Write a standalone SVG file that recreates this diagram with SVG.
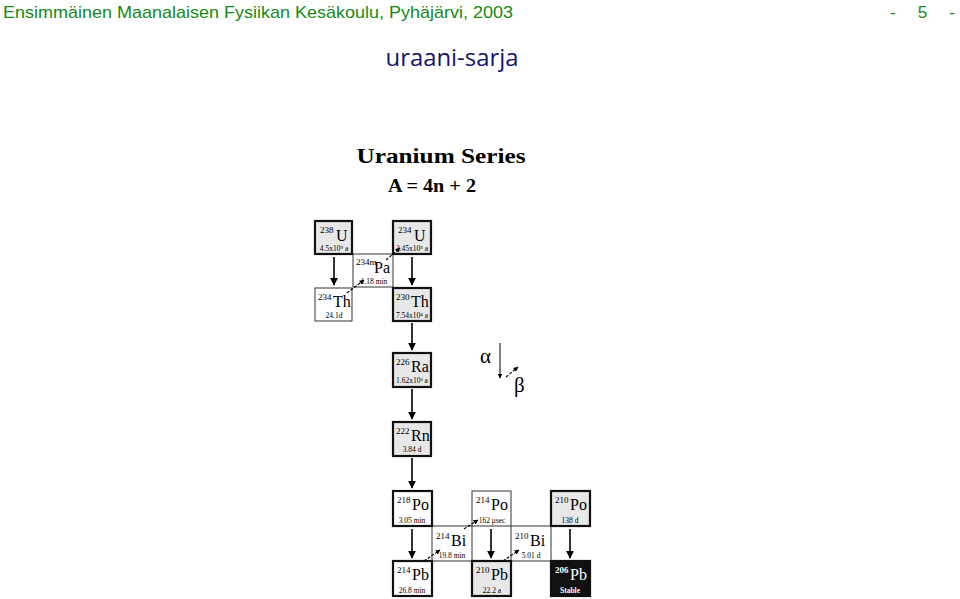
<svg xmlns="http://www.w3.org/2000/svg" width="960" height="599" viewBox="0 0 960 599">
<defs>
<style>
.hdr{font-family:"Liberation Sans Narrow","Liberation Sans",sans-serif;font-size:17px;fill:#148a14}
.ttl{font-family:"Open Sans","Liberation Sans",sans-serif;font-size:24px;fill:#14146e}
.ser{font-family:"Liberation Serif",serif;fill:#000}
.box{stroke:#111;stroke-width:2.2}
.thin{fill:#fff;stroke:#333;stroke-width:1}
.gray{fill:#e8e8e8}
.wht{fill:#fff}
.mass{font-family:"Liberation Serif",serif;font-size:9px}
.sym{font-family:"Liberation Serif",serif;font-size:16px}
.hl{font-family:"Liberation Serif",serif;font-size:7.5px;text-anchor:middle}
.alpha{stroke:#000;stroke-width:1.6;fill:none}
.beta{stroke:#000;stroke-width:1.1;stroke-dasharray:3 1.5;fill:none}
</style>
<marker id="ah" viewBox="0 0 10 10" refX="9" refY="5" markerWidth="8" markerHeight="8" markerUnits="userSpaceOnUse" orient="auto">
<path d="M0,0 L10,5 L0,10 z" fill="#000"/>
</marker>
<marker id="bh" viewBox="0 0 10 10" refX="9" refY="5" markerWidth="5" markerHeight="5" markerUnits="userSpaceOnUse" orient="auto">
<path d="M0,0 L10,5 L0,10 z" fill="#000"/>
</marker>
</defs>
<rect width="960" height="599" fill="#fff"/>
<text class="hdr" x="3" y="18" textLength="510" lengthAdjust="spacingAndGlyphs">Ensimmäinen Maanalaisen Fysiikan Kesäkoulu, Pyhäjärvi, 2003</text>
<text class="hdr" x="890" y="18" textLength="65" lengthAdjust="spacing">- 5 -</text>
<text class="ttl" x="452" y="66" text-anchor="middle" textLength="133" lengthAdjust="spacingAndGlyphs">uraani-sarja</text>
<text class="ser" x="441" y="163" text-anchor="middle" font-size="22" font-weight="bold" textLength="169" lengthAdjust="spacingAndGlyphs">Uranium Series</text>
<text class="ser" x="432" y="192" text-anchor="middle" font-size="19" font-weight="bold" textLength="88" lengthAdjust="spacingAndGlyphs">A = 4n + 2</text>

<g id="pa234"><rect class="thin" x="353" y="254" width="40" height="33"/><text class="mass" x="356" y="265" font-size="6">234m</text><text class="sym" x="374" y="273">Pa</text><text class="hl" x="374" y="284">1.18 min</text></g>
<g id="th234"><rect class="thin" x="315" y="288" width="37" height="33"/><text class="mass" x="318" y="300">234</text><text class="sym" x="333" y="307">Th</text><text class="hl" x="334" y="318">24.1d</text></g>
<g id="bi214"><rect class="thin" x="432" y="526" width="40" height="35"/><text class="mass" x="436" y="539">214</text><text class="sym" x="451" y="546">Bi</text><text class="hl" x="452" y="558">19.8 min</text></g>
<g id="po214"><rect class="thin" x="472" y="491" width="39" height="35"/><text class="mass" x="476" y="503">214</text><text class="sym" x="491" y="510">Po</text><text class="hl" x="492" y="523">162 μsec</text></g>
<g id="bi210"><rect class="thin" x="511" y="526" width="40" height="35"/><text class="mass" x="515" y="539">210</text><text class="sym" x="530" y="546">Bi</text><text class="hl" x="531" y="558">5.01 d</text></g>

<g id="u238"><rect class="box gray" x="315" y="221" width="37" height="33"/><text class="mass" x="320" y="233">238</text><text class="sym" x="336" y="241">U</text><text class="hl" x="334" y="251">4.5x10⁹ a</text></g>
<g id="u234"><rect class="box gray" x="393" y="221" width="38" height="33"/><text class="mass" x="398" y="233">234</text><text class="sym" x="414" y="241">U</text><text class="hl" x="412" y="251">2.45x10⁵ a</text></g>
<g id="th230"><rect class="box gray" x="393" y="288" width="38" height="33"/><text class="mass" x="396" y="300">230</text><text class="sym" x="411" y="307">Th</text><text class="hl" x="412" y="318">7.54x10⁴ a</text></g>
<g id="ra226"><rect class="box gray" x="393" y="353" width="38" height="34"/><text class="mass" x="396" y="365">226</text><text class="sym" x="411" y="372">Ra</text><text class="hl" x="412" y="383">1.62x10³ a</text></g>
<g id="rn222"><rect class="box gray" x="393" y="422" width="38" height="34"/><text class="mass" x="396" y="434">222</text><text class="sym" x="411" y="441">Rn</text><text class="hl" x="412" y="452">3.84 d</text></g>
<g id="po218"><rect class="box wht" x="393" y="491" width="39" height="35"/><text class="mass" x="397" y="503">218</text><text class="sym" x="412" y="510">Po</text><text class="hl" x="412" y="523">3.05 min</text></g>
<g id="po210"><rect class="box gray" x="551" y="491" width="39" height="35"/><text class="mass" x="555" y="503">210</text><text class="sym" x="570" y="510">Po</text><text class="hl" x="570" y="523">138 d</text></g>
<g id="pb214"><rect class="box wht" x="393" y="561" width="39" height="35"/><text class="mass" x="397" y="573">214</text><text class="sym" x="412" y="580">Pb</text><text class="hl" x="412" y="593">26.8 min</text></g>
<g id="pb210"><rect class="box gray" x="472" y="561" width="39" height="35"/><text class="mass" x="476" y="573">210</text><text class="sym" x="491" y="580">Pb</text><text class="hl" x="492" y="593">22.2 a</text></g>
<g id="pb206"><rect class="box" fill="#111" x="551" y="561" width="39" height="35"/><text class="mass" x="555" y="573" fill="#fff" font-weight="bold">206</text><text class="sym" x="570" y="580" fill="#fff">Pb</text><text class="hl" x="570" y="593" fill="#fff" font-weight="bold">Stable</text></g>

<g id="connectors">
<line class="alpha" x1="334" y1="257" x2="334" y2="285" marker-end="url(#ah)"/>
<line class="alpha" x1="412" y1="257" x2="412" y2="285" marker-end="url(#ah)"/>
<line class="alpha" x1="412" y1="323" x2="412" y2="350" marker-end="url(#ah)"/>
<line class="alpha" x1="412" y1="389" x2="412" y2="419" marker-end="url(#ah)"/>
<line class="alpha" x1="412" y1="458" x2="412" y2="488" marker-end="url(#ah)"/>
<line class="alpha" x1="412" y1="529" x2="412" y2="558" marker-end="url(#ah)"/>
<line class="alpha" x1="491" y1="529" x2="491" y2="558" marker-end="url(#ah)"/>
<line class="alpha" x1="570" y1="529" x2="570" y2="558" marker-end="url(#ah)"/>
<line class="beta" x1="347" y1="293" x2="364" y2="280" marker-end="url(#bh)"/>
<line class="beta" x1="386" y1="260" x2="400" y2="248" marker-end="url(#bh)"/>
<line class="beta" x1="424" y1="561" x2="440" y2="550" marker-end="url(#bh)"/>
<line class="beta" x1="464" y1="529" x2="478" y2="520" marker-end="url(#bh)"/>
<line class="beta" x1="503" y1="561" x2="519" y2="550" marker-end="url(#bh)"/>
</g>
<g id="legend">
<text class="ser" x="480" y="363" font-size="21">α</text>
<line x1="500" y1="343" x2="500" y2="378" stroke="#000" stroke-width="1" marker-end="url(#bh)"/>
<line class="beta" x1="506" y1="377" x2="518" y2="367" marker-end="url(#bh)"/>
<text class="ser" x="514" y="392" font-size="21">β</text>
</g>
</svg>
